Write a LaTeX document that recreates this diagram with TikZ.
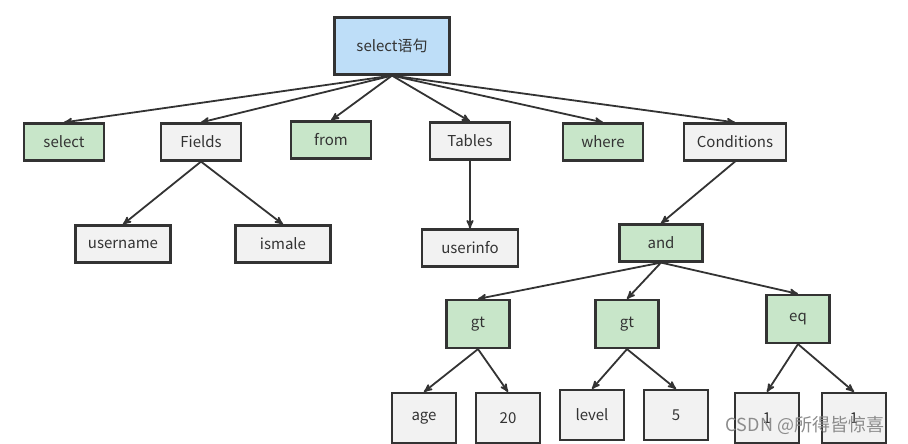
\documentclass[tikz,border=0pt]{standalone}
\usepackage{fontspec}
\setmainfont{Noto Sans CJK SC}
\usetikzlibrary{arrows}

\definecolor{keygreen}{HTML}{C8E6C9}
\definecolor{rootblue}{HTML}{BEDEF8}
\definecolor{leafgray}{HTML}{F2F2F2}
\definecolor{linegray}{HTML}{333333}

\tikzset{
  box/.style={draw=linegray,line width=2.2pt,inner sep=0pt,text=linegray,
    font=\fontsize{15}{17}\selectfont},
  rootbox/.style={box,fill=rootblue,minimum width=115pt,minimum height=57pt},
  keybox/.style={box,fill=keygreen,minimum width=80pt,minimum height=37pt},
  namebox/.style={box,fill=leafgray,minimum width=80pt,minimum height=37pt},
  opbox/.style={box,fill=keygreen,minimum width=63pt,minimum height=48pt},
  valbox/.style={box,fill=leafgray,minimum width=64pt,minimum height=50pt}
}

\begin{document}
\begin{tikzpicture}[x=1pt,y=-1pt,->,>=stealth',shorten >=0pt,line width=1.8pt,draw=linegray]
    \useasboundingbox[fill=white] (0,0) rectangle (908,444);

    \node[rootbox] (root) at (392,46)  {select语句};

    \node[keybox]  (sel)  at (64,142)  {select};
    \node[namebox] (fld)  at (201,142) {Fields};
    \node[keybox]  (frm)  at (331,140) {from};
    \node[namebox] (tbl)  at (470,141) {Tables};
    \node[keybox]  (whr)  at (603,142) {where};
    \node[namebox,minimum width=102pt] (cnd) at (735,142) {Conditions};

    \node[namebox,minimum width=95pt] (usr) at (123,244) {username};
    \node[namebox,minimum width=95pt] (ism) at (283,244) {ismale};
    \node[namebox,minimum width=96pt] (uin) at (470,248) {userinfo};
    \node[keybox,minimum width=83pt]  (and) at (661,243) {and};

    \node[opbox] (gta) at (478,324) {gt};
    \node[opbox] (gtb) at (627,324) {gt};
    \node[opbox] (eqa) at (798,319) {eq};

    \node[valbox] (age) at (424,418) {age};
    \node[valbox] (twe) at (508,418) {20};
    \node[valbox] (lvl) at (592,415) {level};
    \node[valbox] (fiv) at (676,415) {5};
    \node[valbox] (one) at (767,418) {1};
    \node[valbox] (two) at (854,418) {1};

    \foreach \c in {sel,fld,frm,tbl,whr,cnd}
      \path (root.south) edge (\c.north);

    \path (fld.south) edge (usr.north);
    \path (fld.south) edge (ism.north);
    \path (tbl.south) edge (uin.north);
    \path (cnd.south) edge (and.north);

    \path (and.south) edge (gta.north);
    \path (and.south) edge (gtb.north);
    \path (and.south) edge (eqa.north);

    \path (gta.south) edge (age.north);
    \path (gta.south) edge (twe.north);
    \path (gtb.south) edge (lvl.north);
    \path (gtb.south) edge (fiv.north);
    \path (eqa.south) edge (one.north);
    \path (eqa.south) edge (two.north);

    % watermark
    \node[text=black!45,font=\fontsize{18}{20}\selectfont] (mark) at (805,425) {CSDN @所得皆惊喜};
  \end{tikzpicture}
\end{document}
